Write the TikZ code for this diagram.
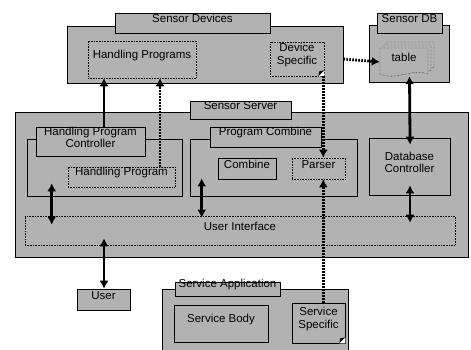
\documentclass[tikz,border=0pt]{standalone}
\usepackage{fontspec}
\setmainfont{Liberation Sans}
\usepackage{xcolor}
\usepackage{tikz}
\usetikzlibrary{fit}
\usetikzlibrary{arrows.meta}
\definecolor{dither}{gray}{0.7}
\def\dogear(#1){\fill[white] ([xshift=-6pt]#1.south east) -- (#1.south east) -- ([yshift=6pt]#1.south east) -- cycle;
    \fill[black] ([xshift=-6pt]#1.south east) -- ([yshift=6pt]#1.south east) -- ([xshift=-5pt,yshift=5pt]#1.south east) -- cycle;}

\begin{document}
\begin{tikzpicture}[x=1pt,y=-1pt,
        box/.style={draw=black,fill=dither,inner sep=0pt,line width=0.6pt},
        dotbox/.style={box,densely dotted},
        lbl/.style={font=\fontsize{11.5}{12.5}\selectfont,align=center},
        solidarrow/.style={line width=2.8pt,-{Latex[length=8pt,width=9pt]}},
        dualarrow/.style={line width=2.8pt,{Latex[length=8pt,width=9pt]}-{Latex[length=8pt,width=9pt]}},
        dotarrow/.style={line width=2.8pt,dash pattern=on 1.6pt off 1.4pt,-{Latex[length=8pt,width=9pt]}}]
        \useasboundingbox (0,0) rectangle (471,349);

        %%% SENSOR DEVICES %%%
        \node[box,fit={(67,26) (343,83)}] (devices) {};
        \node[box,lbl,fit={(115,13) (270,33)}] (devtab) {Sensor Devices};
        \node[dotbox,lbl,fit={(88,41) (196,78)}] (hprogs) {Handling Programs};
        \node[dotbox,lbl,fit={(270,42) (324,76)}] (devspec) {Device\\Specific};
        \dogear(devspec)

        %%% SENSOR DB %%%
        \node[box,fit={(369,25) (449,82)}] (sensordb) {};
        \node[box,lbl,fit={(377,13) (442,33)}] (dbtab) {Sensor DB};
        \foreach \d in {6,3,0}
            \draw[densely dotted,fill=dither,shift={(\d,-\d)}] (380,48) -- (428,48) -- (428,74) .. controls (412,68) and (396,81) .. (380,74) -- cycle;
        \node[lbl,fit={(380,48) (428,76)},inner sep=0pt] (table) {table};

        %%% SENSOR SERVER %%%
        \node[box,fit={(15,112) (468,257)}] (server) {};
        \node[box,lbl,fit={(190,101) (291,119)}] (srvtab) {Sensor Server};
        \node[box,fit={(27,139) (182,196)}] (hpcgroup) {};
        \node[box,lbl,fit={(36,127) (145,156)}] (hpctitle) {Handling Program\\Controller};
        \node[dotbox,lbl,fit={(68,167) (175,187)}] (hprog) {Handling Program};
        \node[box,fit={(190,139) (357,196)}] (pcgroup) {};
        \node[box,lbl,fit={(210,127) (321,147)}] (pctitle) {Program Combine};
        \node[box,lbl,fit={(218,158) (276,179)}] (combine) {Combine};
        \node[dotbox,lbl,fit={(292,158) (345,179)}] (parser) {Parser};
        \node[box,lbl,fit={(369,138) (450,195)}] (dbctrl) {Database\\Controller};
        \node[dotbox,lbl,fit={(25,216) (455,245)}] (ui) {User Interface};

        %%% USER & SERVICE APPLICATION %%%
        \node[box,lbl,fit={(77,289) (130,310)}] (user) {User};
        \node[box,fit={(162,289) (348,352)}] (app) {};
        \node[box,lbl,fit={(175,282) (280,296)}] (apptab) {Service Application};
        \node[box,lbl,fit={(174,305) (268,342)}] (svcbody) {Service Body};
        \node[box,lbl,fit={(292,303) (345,343)}] (svcspec) {Service\\Specific};
        \dogear(svcspec)

        %%% CONNECTORS %%%
        \draw[solidarrow] ([xshift=13.5pt]hpctitle.north) -- ([xshift=13.5pt]hpctitle.north |- hprogs.south);
        \draw[dotarrow] ([xshift=38.5pt]hprog.north) -- ([xshift=38.5pt]hprog.north |- hprogs.south);
        \draw[dotarrow] (devices.east |- devspec.east) -- (table.west);
        \draw[dotarrow] ([xshift=-1pt]devspec.south east) -- ([xshift=-1pt]devspec.south east |- parser.north);
        \draw[dotarrow] ([xshift=-1pt]devspec.south east |- svcspec.north) -- ([xshift=-1pt]devspec.south east |- parser.south);
        \draw[dualarrow,shorten >=-7pt] (dbctrl.north |- table.south) -- ([xshift=0.5pt]dbctrl.north);
        \draw[dualarrow,shorten <=-13pt,shorten >=-9pt] ([xshift=25pt]hpcgroup.south west) -- ([xshift=25pt]hpcgroup.south west |- ui.north);
        \draw[dualarrow,shorten <=-18pt,shorten >=-2pt] ([xshift=12pt]pcgroup.south west) -- ([xshift=12pt]pcgroup.south west |- ui.north);
        \draw[dualarrow,shorten <=-10pt,shorten >=-7pt] ([xshift=0.5pt]dbctrl.south) -- ([xshift=0.5pt]dbctrl.south |- ui.north);
        \draw[dualarrow,shorten <=-7pt] (user.north -| hpctitle.north) ++(13.5pt,0) coordinate (uitop) (uitop |- ui.south) -- (uitop);
\end{tikzpicture}
\end{document}
